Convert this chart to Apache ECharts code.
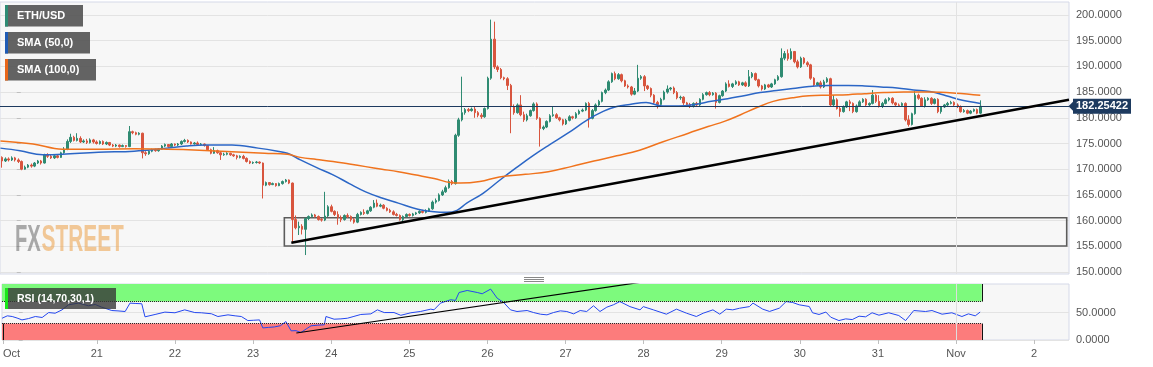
<!DOCTYPE html>
<html><head><meta charset="utf-8">
<script src="https://cdn.jsdelivr.net/npm/echarts@6/dist/echarts.min.js"></script>
<style>html,body{margin:0;padding:0;background:#fff;}#c{width:1153px;height:367px;}</style>
</head><body><div id="c"></div>
<script>
// ---------- DATA ----------
const candleStartHour = -4.5; // hours since Oct 20 00:00 of the first hourly candle
// hourly candles: [open, close, low, high]
const ohlc = [
[172.3,171.6,170.3,172.5],[171.6,172.0,171.4,172.3],[172.0,171.8,171.5,172.3],[171.8,172.2,171.6,172.5],[172.2,171.8,171.5,172.4],
[171.8,171.5,171.2,172.1],[171.5,170.0,169.8,171.7],[170.0,170.4,169.9,170.7],[170.4,170.8,170.2,171.0],[170.8,170.6,170.3,171.1],
[170.6,171.2,170.4,171.4],[171.2,171.6,171.0,171.8],[171.6,171.2,170.9,171.8],[171.2,172.8,171.1,173.0],[172.8,172.5,172.2,173.1],
[172.5,172.2,172.0,172.8],[172.2,172.6,172.0,172.9],[172.6,172.3,172.1,172.8],[172.3,173.2,172.2,173.4],[173.2,173.9,173.0,174.3],
[173.9,175.4,173.7,175.8],[175.4,176.2,175.1,176.9],[176.2,175.6,175.4,176.5],[175.6,176.0,175.4,177.0],[176.0,175.3,175.1,176.4],
[175.3,175.5,175.1,175.8],[175.5,175.2,174.9,175.9],[175.2,175.7,175.0,176.0],[175.7,175.3,175.0,175.9],[175.3,175.0,174.8,175.6],
[175.0,175.4,174.8,175.6],[175.4,174.9,174.7,175.6],[174.9,175.2,174.7,175.4],[175.2,174.7,174.5,175.3],[174.7,174.5,174.3,174.9],
[174.5,174.7,174.3,174.9],[174.7,174.4,174.2,174.8],[174.4,174.6,174.3,174.8],[174.6,174.4,174.2,174.7],[174.4,177.3,174.3,178.4],
[177.3,177.1,176.8,177.5],[177.1,176.8,176.6,177.3],[176.8,177.0,176.6,177.2],[177.0,173.2,172.1,177.1],[173.2,173.0,172.6,173.5],
[173.0,173.5,172.8,173.7],[173.5,173.8,173.3,174.0],[173.8,173.6,173.4,174.0],[173.6,173.9,173.4,174.1],[173.9,174.5,173.8,174.7],
[174.5,174.8,174.3,175.0],[174.8,174.4,174.2,174.9],[174.4,174.9,174.3,175.1],[174.9,174.7,174.5,175.0],[174.7,174.9,174.5,175.1],
[174.9,175.4,174.7,175.6],[175.4,175.6,175.2,175.9],[175.6,175.3,175.1,175.8],[175.3,174.9,174.8,175.4],[174.9,175.1,174.8,175.3],
[175.1,174.8,174.6,175.4],[174.8,174.9,174.6,175.1],[174.9,174.6,174.4,175.0],[174.6,173.8,173.6,174.7],[173.8,173.1,172.9,174.0],
[173.1,173.6,173.0,174.3],[173.6,173.2,173.0,173.8],[173.2,172.8,171.8,173.4],[172.8,172.9,172.6,173.2],[172.9,173.1,172.7,173.3],
[173.1,172.8,172.6,173.2],[172.8,172.6,172.4,173.0],[172.6,172.3,171.9,172.8],[172.3,172.5,172.1,172.7],[172.5,172.1,171.9,172.8],
[172.1,171.5,171.3,172.3],[171.5,171.2,171.0,171.7],[171.2,171.3,171.0,171.5],[171.3,171.4,171.1,171.6],[171.4,171.2,171.0,171.5],
[171.2,166.9,164.3,171.3],[166.9,167.4,166.7,167.6],[167.4,167.0,166.8,167.5],[167.0,167.2,166.9,167.4],[167.2,166.8,166.6,167.3],
[166.8,167.2,166.7,167.4],[167.2,167.6,167.0,167.8],[167.6,167.9,167.4,168.1],[167.9,167.3,167.1,168.0],[167.3,160.2,155.7,167.4],
[160.2,158.6,158.3,161.0],[158.6,158.9,157.2,159.8],[158.9,158.3,157.3,159.3],[158.3,160.4,153.3,160.6],[160.4,160.8,160.1,161.0],
[160.8,161.1,160.6,161.4],[161.1,160.8,160.6,161.3],[160.8,160.2,160.0,161.0],[160.2,160.1,159.8,160.5],[160.1,160.9,159.9,165.6],
[160.9,162.7,160.7,163.0],[162.7,161.8,161.6,163.1],[161.8,161.2,160.9,162.0],[161.2,160.6,159.2,161.8],[160.6,160.2,159.7,161.0],
[160.2,161.0,160.0,161.2],[161.0,160.8,160.5,161.4],[160.8,160.2,159.8,161.0],[160.2,159.7,159.4,160.5],[159.7,161.2,159.5,161.5],
[161.2,161.6,161.0,161.8],[161.6,161.4,161.1,162.2],[161.4,161.9,161.2,162.1],[161.9,162.6,161.7,162.8],[162.6,163.4,162.4,164.0],
[163.4,162.8,162.6,164.1],[162.8,163.0,162.6,163.3],[163.0,162.4,162.2,163.2],[162.4,162.0,161.8,162.6],[162.0,161.7,161.5,162.3],
[161.7,161.2,161.0,162.0],[161.2,161.0,160.8,161.5],[161.0,160.2,160.0,161.2],[160.2,160.8,159.9,161.0],[160.8,161.2,160.6,161.4],
[161.2,161.0,160.8,161.4],[161.0,161.3,160.8,161.5],[161.3,161.5,161.1,161.7],[161.5,161.8,161.3,162.0],[161.8,161.6,161.4,162.1],
[161.6,161.9,161.4,162.2],[161.9,162.3,161.7,162.5],[162.3,163.6,162.1,163.9],[163.6,163.9,163.3,164.3],[163.9,165.0,163.7,165.3],
[165.0,165.6,164.8,166.0],[165.6,166.4,165.4,166.8],[166.4,167.6,166.2,168.0],[167.6,167.2,166.9,167.9],[167.2,176.6,167.0,176.9],
[176.6,179.6,176.3,180.0],[179.6,181.0,179.3,188.0],[181.0,181.6,180.6,181.9],[181.6,181.4,181.1,181.9],[181.4,181.7,181.2,182.0],
[181.7,181.0,180.0,182.2],[181.0,180.5,180.1,181.3],[180.5,180.2,179.8,180.9],[180.2,181.8,180.0,182.0],[181.8,187.7,181.6,188.0],
[187.7,195.3,187.4,199.1],[195.3,189.9,189.5,198.7],[189.9,189.4,188.9,190.2],[189.4,187.8,187.5,189.7],[187.8,187.6,187.3,188.0],
[187.6,186.3,185.4,187.9],[186.3,182.2,177.0,186.6],[182.2,181.0,180.6,182.6],[181.0,182.5,180.8,182.8],[182.5,180.6,180.3,184.4],
[180.6,179.6,179.2,181.2],[179.6,180.4,179.3,180.8],[180.4,181.4,180.2,181.6],[181.4,182.7,181.2,183.0],[182.7,179.9,179.6,183.0],
[179.9,177.9,174.4,180.1],[177.9,178.2,177.6,178.5],[178.2,179.3,178.0,179.5],[179.3,180.4,179.1,180.7],[180.4,180.6,180.2,182.1],
[180.6,180.0,179.8,180.9],[180.0,179.6,179.3,180.2],[179.6,178.8,178.5,179.8],[178.8,179.5,178.6,179.8],[179.5,180.2,179.3,180.5],
[180.2,180.0,179.7,180.4],[180.0,180.8,179.8,181.1],[180.8,181.3,180.6,181.6],[181.3,181.5,181.1,181.8],[181.5,182.8,181.3,183.0],
[182.8,179.9,178.1,183.1],[179.9,181.4,179.7,181.7],[181.4,182.5,181.2,182.8],[182.5,183.2,182.2,183.5],[183.2,184.9,183.0,185.1],
[184.9,185.4,184.6,185.7],[185.4,187.0,185.2,187.3],[187.0,188.6,186.8,188.8],[188.6,187.6,187.3,189.0],[187.6,188.4,187.4,188.7],
[188.4,187.2,186.9,188.6],[187.2,186.2,186.0,187.4],[186.2,186.0,185.7,186.5],[186.0,184.6,184.3,186.2],[184.6,185.2,184.4,185.8],
[185.2,187.7,185.0,190.3],[187.7,188.0,187.4,188.3],[188.0,186.2,185.2,188.3],[186.2,185.7,185.4,186.4],[185.7,184.4,184.0,185.9],
[184.4,183.0,182.7,184.6],[183.0,182.6,181.8,183.3],[182.6,183.6,182.4,183.9],[183.6,185.0,183.4,185.3],[185.0,185.6,184.7,186.3],
[185.6,185.8,185.3,186.0],[185.8,184.9,184.6,186.1],[184.9,183.9,183.6,185.2],[183.9,184.0,183.5,184.3],[184.0,182.9,182.5,184.2],
[182.9,182.6,182.3,183.1],[182.6,182.2,181.9,182.9],[182.2,182.8,182.0,183.0],[182.8,182.5,182.2,183.1],[182.5,183.6,182.3,183.8],
[183.6,184.5,183.4,184.8],[184.5,184.9,184.3,185.1],[184.9,184.5,184.2,185.2],[184.5,184.8,184.3,185.0],[184.8,183.0,181.8,185.0],
[183.0,184.3,182.8,184.5],[184.3,185.2,184.1,185.4],[185.2,186.6,185.0,186.9],[186.6,186.1,185.9,187.3],[186.1,186.6,185.8,186.8],
[186.6,187.0,186.4,187.3],[187.0,186.4,186.2,187.2],[186.4,186.8,186.2,187.0],[186.8,186.2,186.0,187.1],[186.2,188.0,186.0,189.3],
[188.0,188.6,187.7,188.9],[188.6,187.4,187.2,188.8],[187.4,186.2,185.9,187.6],[186.2,185.6,185.3,186.4],[185.6,186.4,185.4,186.6],
[186.4,186.0,185.8,186.6],[186.0,186.6,185.8,186.8],[186.6,187.4,186.4,187.6],[187.4,188.0,187.2,188.3],[188.0,191.6,187.8,193.5],
[191.6,192.5,191.2,193.0],[192.5,191.5,191.1,193.3],[191.5,192.9,191.3,193.5],[192.9,190.9,190.6,193.0],[190.9,189.9,189.6,191.3],
[189.9,191.6,189.7,191.9],[191.6,190.7,190.4,191.8],[190.7,190.3,189.9,191.0],[190.3,187.7,187.4,190.5],[187.7,186.4,186.1,187.9],
[186.4,186.8,186.2,187.0],[186.8,186.0,185.7,187.2],[186.0,187.0,185.8,187.4],[187.0,187.6,186.8,187.9],[187.6,182.5,182.2,187.8],
[182.5,183.5,182.2,184.4],[183.5,181.8,181.6,183.8],[181.8,181.2,180.2,182.1],[181.2,182.1,181.0,182.4],[182.1,183.1,181.9,183.3],
[183.1,182.8,181.3,183.5],[182.8,181.2,180.9,183.0],[181.2,182.3,181.0,182.6],[182.3,183.1,182.1,183.4],[183.1,183.6,182.9,183.8],
[183.6,182.5,182.2,183.8],[182.5,182.8,182.3,183.0],[182.8,184.4,182.6,185.4],[184.4,183.2,182.9,184.6],[183.2,182.2,182.0,184.4],
[182.2,182.8,181.9,183.1],[182.8,183.5,182.6,183.8],[183.5,183.8,183.2,184.0],[183.8,182.9,182.6,184.0],[182.9,182.5,182.2,183.1],
[182.5,182.4,182.1,182.8],[182.4,182.8,182.1,183.0],[182.8,179.6,179.3,183.0],[179.6,178.7,178.3,180.5],[178.7,180.8,178.5,181.0],
[180.8,184.4,180.6,185.2],[184.4,183.8,183.5,184.7],[183.8,182.3,182.1,184.0],[182.3,183.5,182.0,184.0],[183.5,183.8,183.3,184.0],
[183.8,182.8,182.5,184.0],[182.8,183.6,182.6,183.8],[183.6,181.2,180.9,183.8],[181.2,182.1,180.8,182.3],[182.1,182.5,181.9,182.7],
[182.5,182.8,182.3,183.1],[182.8,183.0,182.6,183.3],[183.0,182.5,182.3,183.2],[182.5,182.2,181.9,182.8],[182.2,181.2,181.0,182.4],
[181.2,181.4,181.0,181.7],[181.4,180.9,180.7,181.6],[180.9,181.3,180.7,181.5],[181.3,181.6,181.1,181.8],[181.6,180.9,180.7,181.8],
[180.9,182.25,180.7,183.4]
];
const lastPrice = 182.25422;

const sma50Hours  = [-5,1,8,14,25,36,46,52,58,66,74,80,83,87,92,97,102,107,112,117,123,128,132,135,138,143,148,153,158,163,169,175,180,184,188,193,198,203,208,213,218,223,228,233,238,243,249,255,260,265,270,275,280,285,290,295.5];
const sma50Values = [174.1,173.6,172.8,172.9,173.3,173.5,174.1,174.5,174.7,174.7,174.1,173.5,173.1,171.8,170.3,168.9,167.2,165.6,164.4,163.4,162.2,161.7,161.6,162.0,163.4,165.3,167.8,170.2,172.5,174.6,177.0,179.6,181.3,182.2,182.6,183.0,182.3,182.3,182.6,183.2,183.7,184.3,184.9,185.3,185.7,186.1,186.3,186.3,186.2,186.0,185.8,185.4,185.1,184.3,183.4,182.8];

const sma100Hours  = [-5,5,14,25,36,46,56,66,76,83,87,92,97,102,107,112,117,122,128,133,136,142,148,156,163,170,177,184,191,198,206,212,217,222,227,232,238,243,249,255,260,266,272,280,288,295.5];
const sma100Values = [175.5,174.9,173.9,173.9,174.0,173.9,173.7,173.4,173.1,172.9,172.3,171.9,171.5,171.0,170.5,170.0,169.5,168.9,168.2,167.4,167.3,167.6,168.5,169.0,169.5,170.5,171.6,172.6,173.7,175.3,177.0,178.3,179.3,180.6,182.0,183.2,183.9,184.3,184.4,184.5,184.7,184.9,185.0,185.0,184.8,184.4];

const rsiHours = [-5.1,-3.5,-2.0,-0.5,1.0,3,5.1,7.2,9.2,11.2,13.3,15.3,18.4,21.4,23.5,25.5,28.6,30.5,32.7,34.2,36,37.8,38.8,41.9,44.9,48.0,51.0,54.1,56.1,59.2,61.2,64.3,66.5,68.4,70.4,72.2,74.0,75.0,76.8,78.6,80.4,82.1,83.7,85.2,86.7,88.3,89.8,91.9,93.9,94.4,96.9,99,101.0,103,105.1,108.2,110.2,112.3,115.3,117.4,120.5,123.5,126.6,127.6,129.6,132.7,134.2,135.3,137.8,140.9,142.4,145.0,147.0,149.0,151.1,153.1,156.2,158.2,160.3,162.3,164.3,166.4,168.4,170.5,172.5,174.5,176.6,178.6,180.7,182.7,184.7,187.8,190.9,191.9,195.0,199.0,202.1,205.2,208.2,210.3,213.3,215.4,217.4,219.4,221.5,224.5,225.6,228.6,230.7,233.7,235.8,237.8,239.8,242.9,243.9,245.9,248.0,249.5,252.0,254.1,256.1,258.2,260.2,262.2,264.3,267.3,270.4,272.5,275.0,278.6,280.6,283.7,286.7,289.8,291.8,293.9,295.4];
const rsiValues = [39.7,44,42.8,40,36.6,39,42.8,41.0,50.0,48.8,54.9,64.1,67.2,62.3,64.7,59.8,53.7,53,51.9,67.2,66.5,66.0,42.2,46.5,50.8,49.6,54.9,50.0,49.6,47.8,42.8,45.8,44,42.8,35.4,36,36.6,22.0,23,23.8,26,33.6,16.7,17,13.6,20,25.8,27,27.7,42.8,37.9,38.5,39.7,43,46.5,47.6,54.9,50.0,50.0,45,49.6,52.0,56.2,55.0,67.2,73.3,72.1,86.5,90.2,86.5,84.2,92.7,76.2,68.3,54.9,51.9,53.7,50.0,47.0,45.8,50.0,53.1,51.9,47.6,53.7,51.9,62.3,51.9,59.8,64.1,70.0,60.8,54.9,60.8,54.9,47.0,56.2,48.8,42.8,48.8,54.9,47.0,56.2,54.9,57.9,60.8,67.2,56.2,52.0,58.0,70.0,68.3,64.1,61.0,49.6,46.5,50.9,41.5,35.4,38.5,37.2,43.4,42.2,49.6,45.2,49.6,44.6,35.4,53.7,51.9,53.7,47.0,49.6,42.8,47.6,44.0,50.9];

const xTickHours  = [-4.6,24,48,72,96,120,144,168,192,216,240,264,288,312];
const xLabelHours = [-2.2,24,48,72,96,120,144,168,192,216,240,264,288,312];
const xLabels     = ['Oct','21','22','23','24','25','26','27','28','29','30','31','Nov','2'];
const priceTicks  = [150,155,160,165,170,175,180,185,190,195,200];
const rsiTicks    = [0,50];
const rsiUpper = 70, rsiLower = 30;

const trendLine    = [[84.2,155.7],[322.7,183.5]];
const rsiTrendLine = [[85.3,12.8],[192.1,106]];
const zoneBox = {h0:82.06, h1:322.0, p0:155.06, p1:160.56};
const monthHour = 288;

// ---------- CHART ----------
const FONT = '"Liberation Sans", Arial, Helvetica, sans-serif';
const xMin = -5.14, xMax = 322.7;
const yMin = 149.61, yMax = 202.53;
const rsiMax = 102;
const candleData = ohlc.map((d,i)=>[candleStartHour+i, d[0], d[1], d[2], d[3]]);
const lastHour = candleStartHour + ohlc.length - 1;
const zoneEnd = lastHour + 0.4;
const pairs = (xs,ys)=>xs.map((x,i)=>[x,ys[i]]);
const labelFor = v => { const i = xLabelHours.findIndex(h=>Math.abs(h-v)<1e-6); return i>=0 ? xLabels[i] : ''; };

const UP='#2f8b72', DOWN='#d8553e';
const chart = echarts.init(document.getElementById('c'), null, {renderer:'canvas'});

const option = {
  animation:false,
  backgroundColor:'#ffffff',
  grid:[
    {left:0, top:2, width:1069, height:272, show:true, backgroundColor:'#f7f7f7', borderColor:'#d5d9e8', borderWidth:1},
    {left:0, top:284, width:1069, height:56, show:true, backgroundColor:'#f7f7f7', borderColor:'#d5d9e8', borderWidth:1}
  ],
  xAxis:[
    {type:'value', gridIndex:0, min:xMin, max:xMax, axisLine:{show:false}, axisTick:{show:false}, axisLabel:{show:false}, splitLine:{show:false}},
    {type:'value', gridIndex:1, min:xMin, max:xMax, axisLine:{show:false},
      axisTick:{show:true, customValues:xTickHours, length:4, lineStyle:{color:'#bfbfbf'}},
      axisLabel:{show:true, customValues:xLabelHours, formatter:labelFor, color:'#555', fontSize:11, fontFamily:FONT, margin:8},
      splitLine:{show:false}}
  ],
  yAxis:[
    {type:'value', gridIndex:0, position:'right', min:yMin, max:yMax, scale:true, axisLine:{show:false},
      axisTick:{show:true, customValues:priceTicks, length:4, lineStyle:{color:'#bfbfbf'}},
      axisLabel:{show:true, customValues:priceTicks, formatter:v=>Number(v).toFixed(4), color:'#555', fontSize:11, fontFamily:FONT, margin:7},
      splitLine:{show:true, lineStyle:{color:'#e3e3e3', width:1}}},
    {type:'value', gridIndex:1, position:'right', min:0, max:rsiMax, axisLine:{show:false},
      axisTick:{show:true, customValues:rsiTicks, length:4, lineStyle:{color:'#bfbfbf'}},
      axisLabel:{show:true, customValues:rsiTicks, formatter:v=>Number(v).toFixed(4), color:'#555', fontSize:11, fontFamily:FONT, margin:7},
      splitLine:{show:true, lineStyle:{color:'#e3e3e3', width:1}}}
  ],
  series:[
    {type:'candlestick', name:'ETH/USD', xAxisIndex:0, yAxisIndex:0, data:candleData, encode:{x:0, y:[1,2,3,4]},
      barWidth:2, large:false, z:3,
      itemStyle:{color:UP, color0:DOWN, borderColor:UP, borderColor0:DOWN, borderWidth:1},
      markArea:{silent:true, itemStyle:{color:'rgba(0,0,0,0)', borderColor:'#5c5c5c', borderWidth:1.6},
        data:[[{coord:[zoneBox.h0, zoneBox.p1]},{coord:[zoneBox.h1, zoneBox.p0]}]]},
      markLine:{silent:true, symbol:['none','none'], animation:false,
        data:[
          {xAxis:monthHour, lineStyle:{color:'#e2e2e2', width:1, type:'solid'}, label:{show:false}},
          {yAxis:lastPrice, lineStyle:{color:'#1d3a5f', width:1, type:'solid'},
            label:{show:true, position:'end', formatter:String(lastPrice), color:'#fff', fontWeight:'bold', fontSize:11, fontFamily:FONT,
              backgroundColor:'#1d3a5f', padding:[2,3,2,3], distance:4}}
        ]}
    },
    {type:'line', name:'SMA (50,0)', xAxisIndex:0, yAxisIndex:0, data:pairs(sma50Hours,sma50Values), smooth:0.4, symbol:'none',
      lineStyle:{color:'#2b66c6', width:1.5}, z:4},
    {type:'line', name:'SMA (100,0)', xAxisIndex:0, yAxisIndex:0, data:pairs(sma100Hours,sma100Values), smooth:0.4, symbol:'none',
      lineStyle:{color:'#f0731d', width:1.5}, z:4},
    {type:'line', name:'trend', xAxisIndex:0, yAxisIndex:0, data:trendLine, symbol:'none', lineStyle:{color:'#000', width:2.5}, z:5},
    {type:'line', name:'rsiZones', xAxisIndex:1, yAxisIndex:1, data:[], symbol:'none', z:1,
      markArea:{silent:true, data:[
        [{coord:[xMin, rsiUpper], itemStyle:{color:'#7dfa7d'}},{coord:[zoneEnd, rsiMax]}],
        [{coord:[xMin, 0], itemStyle:{color:'#fc7c7c'}},{coord:[zoneEnd, rsiLower]}]
      ]},
      markLine:{silent:true, symbol:['none','none'], label:{show:false}, data:[
        [{coord:[xMin, rsiUpper], lineStyle:{color:'#222', type:'dotted', width:1}},{coord:[zoneEnd, rsiUpper]}],
        [{coord:[xMin, rsiLower], lineStyle:{color:'#222', type:'dotted', width:1}},{coord:[zoneEnd, rsiLower]}],
        [{coord:[zoneEnd, rsiUpper], lineStyle:{color:'#111', type:'solid', width:1}},{coord:[zoneEnd, rsiMax]}],
        [{coord:[zoneEnd, 0], lineStyle:{color:'#111', type:'solid', width:1}},{coord:[zoneEnd, rsiLower]}],
        [{coord:[xMin+0.25, 0], lineStyle:{color:'#111', type:'solid', width:1}},{coord:[xMin+0.25, rsiLower]}],
        [{coord:[monthHour, 0], lineStyle:{color:'#dedede', type:'solid', width:1}},{coord:[monthHour, rsiMax]}]
      ]}
    },
    {type:'line', name:'RSI (14,70,30,1)', xAxisIndex:1, yAxisIndex:1, data:pairs(rsiHours,rsiValues), symbol:'none',
      lineStyle:{color:'#2447f0', width:1}, z:4},
    {type:'line', name:'rsiTrend', xAxisIndex:1, yAxisIndex:1, data:rsiTrendLine, symbol:'none', lineStyle:{color:'#000', width:1.2}, z:5}
  ]
};
chart.setOption(option);

// decorations
const py = chart.convertToPixel({yAxisIndex:0}, lastPrice);
const legendBox = (y, w, color, text) => [
  {type:'rect', shape:{x:5, y:y, width:w, height:21.5}, style:{fill:'rgba(78,78,78,0.88)'}, z:100},
  {type:'rect', shape:{x:5, y:y, width:3, height:21.5}, style:{fill:color}, z:101},
  {type:'text', style:{x:17, y:y+11, text:text, fill:'#fff', font:'bold 11px '+FONT, verticalAlign:'middle'}, z:101}
];
const graphics = [].concat(
  legendBox(5, 78, '#2e8b74', 'ETH/USD'),
  legendBox(32, 85, '#1f5bb5', 'SMA (50,0)'),
  legendBox(59, 91, '#e8661a', 'SMA (100,0)'),
  [
    {type:'rect', shape:{x:5, y:288, width:111, height:21}, style:{fill:'rgba(55,55,55,0.8)'}, z:100},
    {type:'rect', shape:{x:5, y:288, width:3, height:21}, style:{fill:'#19e619'}, z:101},
    {type:'text', style:{x:17, y:299, text:'RSI (14,70,30,1)', fill:'#fff', font:'bold 10.5px '+FONT, verticalAlign:'middle'}, z:101},
    {type:'text', x:15, y:241, scaleX:0.56, style:{x:0, y:0, text:'FX', fill:'rgba(120,120,120,0.62)', font:'bold 36px '+FONT, verticalAlign:'middle'}, z:1},
    {type:'text', x:41.5, y:241, scaleX:0.58, style:{x:0, y:0, text:'STREET', fill:'rgba(238,170,90,0.62)', font:'bold 36px '+FONT, verticalAlign:'middle'}, z:1},
    {type:'line', shape:{x1:524, y1:277.5, x2:544, y2:277.5}, style:{stroke:'#888', lineWidth:1}, z:100},
    {type:'line', shape:{x1:524, y1:279.5, x2:544, y2:279.5}, style:{stroke:'#888', lineWidth:1}, z:100},
    {type:'line', shape:{x1:524, y1:281.5, x2:544, y2:281.5}, style:{stroke:'#888', lineWidth:1}, z:100},
    {type:'polygon', shape:{points:[[1068.5,py],[1073.5,py-5],[1073.5,py+5]]}, style:{fill:'#1d3a5f'}, z:100}
  ]
);
chart.setOption({graphic:graphics});
</script>
</body></html>
